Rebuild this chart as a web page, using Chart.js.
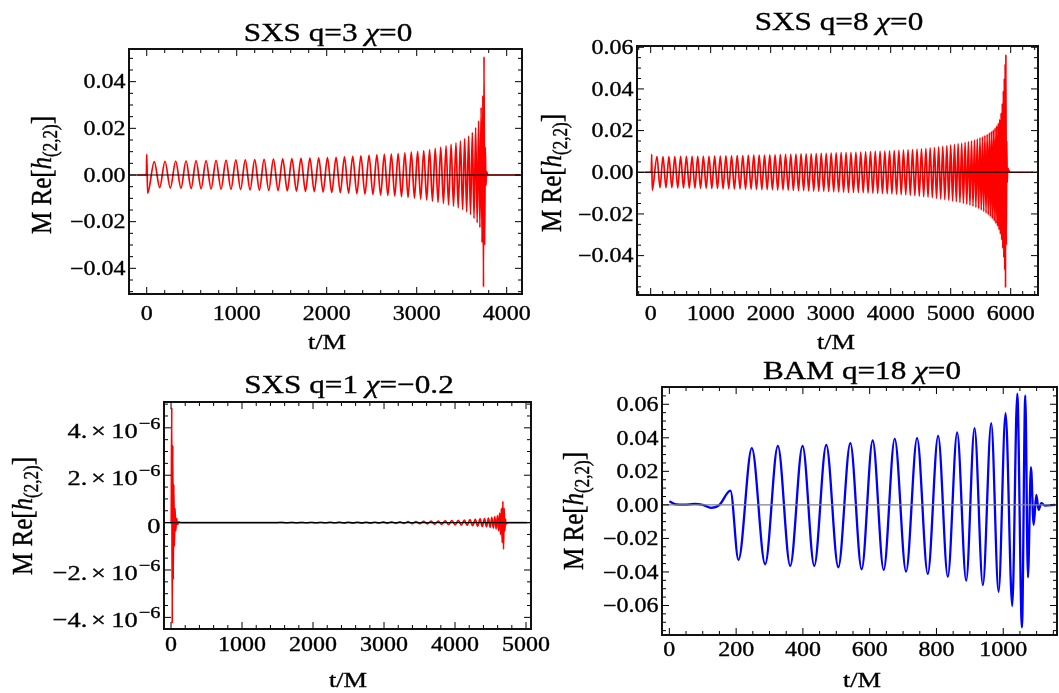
<!DOCTYPE html>
<html>
<head>
<meta charset="utf-8">
<script src="https://cdn.jsdelivr.net/npm/chart.js@4.4.1/dist/chart.umd.min.js"></script>
<style>
  body { margin: 0; background: #fff; }
  #wrap { position: relative; width: 1059px; height: 693px; overflow: hidden; background: #fff; }
  #wrap canvas { position: absolute; left: 0; top: 0; }
</style>
</head>
<body>
<div id="wrap">
  <canvas id="q3" width="1059" height="693"></canvas>
  <canvas id="q8" width="1059" height="693"></canvas>
  <canvas id="q1" width="1059" height="693"></canvas>
  <canvas id="q18" width="1059" height="693"></canvas>
</div>
<script>
// turning points: time t/M and M Re[h22]

// SXS q=3 chi=0
const q3T = [-111, -4, 0, 10, 84, 144, 203, 262, 322, 380, 437, 493, 548, 604, 659, 715, 770, 826, 881, 936,
  990, 1043, 1095, 1148, 1200, 1252, 1304, 1356, 1408, 1460, 1511, 1562, 1613, 1664, 1714, 1764, 1813, 1862,
  1911, 1960, 2008, 2056, 2104, 2151, 2197, 2243, 2289, 2335, 2380, 2425, 2470, 2514, 2557, 2599, 2640, 2679,
  2718, 2756, 2794, 2831, 2868, 2904, 2940, 2975, 3010, 3044, 3078, 3111, 3143, 3175, 3206, 3237, 3267, 3297,
  3326, 3354, 3382, 3409, 3436, 3461, 3486, 3510, 3533, 3555, 3577, 3598, 3618, 3637, 3655, 3672, 3688, 3702,
  3716, 3726, 3735, 3742, 3748, 3755, 3762, 3769, 3776, 3790, 4150];
const q3H = [0, 0, 0.0089, -0.0078, 0.0057, -0.0054, 0.0059, -0.0056, 0.0060, -0.0057, 0.0061, -0.0058, 0.0062,
  -0.0059, 0.0062, -0.0060, 0.0063, -0.0061, 0.0064, -0.0062, 0.0065, -0.0063, 0.0065, -0.0064, 0.0066, -0.0065,
  0.0067, -0.0066, 0.0068, -0.0067, 0.0069, -0.0068, 0.0070, -0.0069, 0.0071, -0.0070, 0.0072, -0.0071, 0.0073,
  -0.0073, 0.0075, -0.0075, 0.0076, -0.0076, 0.0078, -0.0078, 0.0080, -0.0080, 0.0082, -0.0082, 0.0084, -0.0084,
  0.0086, -0.0086, 0.0088, -0.0088, 0.0090, -0.0090, 0.0092, -0.0093, 0.0095, -0.0096, 0.0098, -0.0099, 0.0101,
  -0.0103, 0.0105, -0.0107, 0.0109, -0.0112, 0.0114, -0.0117, 0.0120, -0.0122, 0.0125, -0.0128, 0.0131, -0.0134,
  0.0138, -0.0141, 0.0146, -0.0149, 0.0156, -0.0158, 0.0167, -0.0170, 0.0182, -0.0186, 0.0203, -0.0205, 0.0232,
  -0.0225, 0.0290, -0.0290, 0.0340, -0.0480, 0.0507, -0.0300, 0.0120, -0.0045, 0.0015, 0, 0];
const q3XTicks = [0, 1000, 2000, 3000, 4000];
const q3YTicks = [-0.04, -0.02, 0, 0.02, 0.04];

// SXS q=8 chi=0
const q8T = [-100, 10, 17, 26, 105, 155, 205, 255, 304, 353, 402, 451, 499, 547, 595, 643, 690, 737, 784, 831,
  878, 925, 972, 1019, 1066, 1113, 1160, 1207, 1254, 1301, 1348, 1395, 1442, 1489, 1535, 1581, 1627, 1673, 1718,
  1763, 1808, 1853, 1897, 1941, 1985, 2029, 2073, 2117, 2161, 2205, 2248, 2292, 2335, 2378, 2421, 2464, 2506,
  2549, 2591, 2633, 2675, 2717, 2759, 2801, 2842, 2884, 2925, 2967, 3008, 3050, 3091, 3133, 3174, 3215, 3256,
  3297, 3338, 3379, 3420, 3461, 3501, 3542, 3582, 3623, 3663, 3703, 3743, 3783, 3823, 3863, 3902, 3942, 3981,
  4020, 4059, 4098, 4136, 4175, 4213, 4251, 4289, 4327, 4364, 4402, 4439, 4476, 4513, 4550, 4586, 4622, 4658,
  4694, 4729, 4764, 4799, 4834, 4868, 4902, 4935, 4968, 5000, 5032, 5063, 5094, 5124, 5154, 5183, 5212, 5240,
  5268, 5295, 5321, 5347, 5372, 5396, 5420, 5443, 5466, 5488, 5509, 5530, 5550, 5570, 5589, 5608, 5626, 5644,
  5661, 5678, 5694, 5710, 5725, 5740, 5754, 5768, 5781, 5794, 5806, 5818, 5829, 5840, 5850, 5860, 5869, 5878,
  5886, 5894, 5901, 5908, 5914, 5920, 5927, 5934, 5942, 5950, 5985, 6370];
const q8H = [0, 0, 0.0086, -0.0086, 0.0075, -0.0074, 0.0075, -0.0074, 0.0075, -0.0074, 0.0075, -0.0075, 0.0076,
  -0.0075, 0.0076, -0.0076, 0.0076, -0.0076, 0.0077, -0.0077, 0.0077, -0.0077, 0.0077, -0.0078, 0.0078, -0.0078,
  0.0078, -0.0079, 0.0079, -0.0079, 0.0079, -0.0080, 0.0080, -0.0080, 0.0080, -0.0081, 0.0081, -0.0081, 0.0082,
  -0.0082, 0.0082, -0.0083, 0.0083, -0.0083, 0.0084, -0.0084, 0.0084, -0.0085, 0.0085, -0.0085, 0.0086, -0.0086,
  0.0086, -0.0087, 0.0087, -0.0088, 0.0088, -0.0088, 0.0089, -0.0089, 0.0089, -0.0090, 0.0090, -0.0091, 0.0091,
  -0.0091, 0.0091, -0.0092, 0.0092, -0.0093, 0.0093, -0.0094, 0.0094, -0.0095, 0.0095, -0.0096, 0.0095, -0.0097,
  0.0096, -0.0097, 0.0097, -0.0098, 0.0098, -0.0099, 0.0099, -0.0100, 0.0100, -0.0101, 0.0101, -0.0102, 0.0102,
  -0.0103, 0.0103, -0.0104, 0.0104, -0.0105, 0.0105, -0.0107, 0.0106, -0.0108, 0.0108, -0.0110, 0.0109, -0.0112,
  0.0111, -0.0114, 0.0113, -0.0117, 0.0115, -0.0119, 0.0117, -0.0122, 0.0119, -0.0125, 0.0122, -0.0128, 0.0125,
  -0.0131, 0.0128, -0.0134, 0.0131, -0.0138, 0.0134, -0.0141, 0.0137, -0.0145, 0.0140, -0.0149, 0.0143, -0.0153,
  0.0147, -0.0158, 0.0151, -0.0163, 0.0155, -0.0168, 0.0160, -0.0174, 0.0165, -0.0181, 0.0170, -0.0188, 0.0176,
  -0.0196, 0.0182, -0.0204, 0.0189, -0.0213, 0.0196, -0.0223, 0.0204, -0.0234, 0.0213, -0.0246, 0.0223, -0.0260,
  0.0236, -0.0277, 0.0255, -0.0298, 0.0285, -0.0325, 0.0330, -0.0365, 0.0390, -0.0410, 0.0450, -0.0470, 0.0520,
  -0.0555, 0.0565, -0.0350, 0.0150, -0.0050, 0.0020, 0, 0];
const q8XTicks = [0, 1000, 2000, 3000, 4000, 5000, 6000];
const q8YTicks = [-0.04, -0.02, 0, 0.02, 0.04, 0.06];

// SXS q=1 chi=-0.2, values in units of 1e-6
const q1Unit = 1e-6;
const q1T = [-14, 3, 10, 17, 24, 31, 39, 47, 56, 66, 78, 92, 110, 140, 1500, 1560, 1630, 1700, 1769, 1838, 1906,
  1974, 2041, 2108, 2174, 2240, 2305, 2370, 2434, 2498, 2561, 2624, 2686, 2748, 2809, 2870, 2930, 2990, 3049,
  3108, 3166, 3224, 3281, 3338, 3394, 3449, 3503, 3557, 3610, 3662, 3713, 3764, 3813, 3862, 3909, 3956, 4001,
  4046, 4089, 4131, 4171, 4211, 4248, 4285, 4319, 4353, 4384, 4415, 4443, 4470, 4494, 4518, 4539, 4560, 4579,
  4597, 4613, 4628, 4641, 4653, 4664, 4674, 4683, 4692, 4701, 4710, 4719, 4740, 5010];
const q1H = [0, 0, 4.85, -4.25, 3.25, -2.4, 1.6, -1.0, 0.6, -0.35, 0.18, -0.08, 0.03, 0, 0, 0.012, -0.012, 0.013,
  -0.013, 0.014, -0.014, 0.015, -0.015, 0.016, -0.016, 0.017, -0.017, 0.018, -0.019, 0.020, -0.021, 0.022, -0.023,
  0.024, -0.025, 0.026, -0.027, 0.029, -0.030, 0.032, -0.033, 0.035, -0.037, 0.039, -0.041, 0.043, -0.045, 0.048,
  -0.050, 0.060, -0.064, 0.068, -0.072, 0.077, -0.082, 0.088, -0.093, 0.099, -0.105, 0.111, -0.117, 0.124, -0.131,
  0.138, -0.146, 0.154, -0.163, 0.172, -0.182, 0.193, -0.205, 0.218, -0.233, 0.25, -0.27, 0.30, -0.34, 0.40, -0.50,
  0.60, -0.85, 0.90, -1.12, 0.60, -0.35, 0.15, -0.06, 0, 0];
const q1XTicks = [0, 1000, 2000, 3000, 4000, 5000];
const q1YTicks = [-4e-6, -2e-6, 0, 2e-6, 4e-6];

// BAM q=18 chi=0
const q18T = [0, 20, 45, 75, 100, 125, 150, 183, 207, 247, 287, 325, 362, 399, 434, 470, 506, 542, 576, 609, 642,
  675, 709, 742, 774, 805, 834, 862, 889, 914, 939, 964, 986, 1007, 1027, 1042, 1056, 1066, 1074, 1083, 1091,
  1099, 1106, 1114, 1125, 1155];
const q18H = [0.0022, 0.0003, 0.0001, 0.0006, 0, -0.0018, 0, 0.0085, -0.0328, 0.0338, -0.0354, 0.0352, -0.0364,
  0.0352, -0.0364, 0.0358, -0.0372, 0.0368, -0.0384, 0.0384, -0.0388, 0.0394, -0.0398, 0.0398, -0.0412, 0.0412,
  -0.0428, 0.0432, -0.0452, 0.0458, -0.0478, 0.0488, -0.0518, 0.0547, -0.0603, 0.0663, -0.0730, 0.0653, -0.0432,
  0.0225, -0.0119, 0.0060, -0.0030, 0.0010, -0.0004, 0];
const q18XTicks = [0, 200, 400, 600, 800, 1000];
const q18YTicks = [-0.06, -0.04, -0.02, 0, 0.02, 0.04, 0.06];

const W = 1059, H = 693;
const SX = 1.2; // the figure text is stretched sideways
const SERIF = '"Liberation Serif", "Times New Roman", serif';

function fnt(r) {
  return (r[2] ? 'italic ' : '') + r[1] + 'px ' + SERIF;
}

// runs: [text, size, italic, raise, padAfter]
function drawRuns(ctx, runs, x, y, align, rotated) {
  ctx.save();
  ctx.translate(x, y);
  if (rotated) {
    ctx.rotate(-Math.PI / 2);
    ctx.scale(1, SX);
  } else {
    ctx.scale(SX, 1);
  }
  ctx.textAlign = 'left';
  ctx.textBaseline = 'alphabetic';
  ctx.fillStyle = '#000';
  ctx.strokeStyle = '#000';
  ctx.lineWidth = 0.35;
  let w = 0;
  runs.forEach(r => { ctx.font = fnt(r); w += ctx.measureText(r[0]).width + (r[4] || 0); });
  let cx = align === 'center' ? -w / 2 : align === 'right' ? -w : 0;
  runs.forEach(r => {
    ctx.font = fnt(r);
    ctx.fillText(r[0], cx, -(r[3] || 0));
    ctx.strokeText(r[0], cx, -(r[3] || 0));
    cx += ctx.measureText(r[0]).width + (r[4] || 0);
  });
  ctx.restore();
}

const minus = s => s.replace('-', '\u2212');
const fixed2 = v => [[Math.abs(v) < 1e-9 ? '0.00' : minus(v.toFixed(2)), 20]];
const sci6 = v => {
  if (Math.abs(v) < 1e-12) return [['0', 22]];
  const m = Math.round(v / 1e-6);
  return [[minus(m + '.'), 22, false, 0, 3], ['\u00d7', 22, false, 0, 4.5], ['10', 22, false, 0, 1],
    ['\u22126', 17, false, 9]];
};
const plainX = v => [[String(Math.round(v)), 20]];

const yTitleRuns = [['M Re[', 25], ['h', 25, true], ['(2,2)', 17, false, -5], [']', 25]];
const chi = (head, tail) => [[head, 26], ['\u03c7', 26, true], [tail, 26]];

// frame, inward ticks, zero axis and all text
function frameFor(cfg) {
  return {
    id: 'frame_' + cfg.id,
    afterDraw(chart) {
      const ctx = chart.ctx;
      const a = chart.chartArea;
      const xs = chart.scales.x, ys = chart.scales.y;
      ctx.save();
      // zero axis
      const y0 = ys.getPixelForValue(0);
      ctx.strokeStyle = cfg.axis;
      ctx.lineWidth = cfg.axisW;
      ctx.beginPath();
      ctx.moveTo(a.left, y0);
      ctx.lineTo(a.right, y0);
      ctx.stroke();
      // ticks
      ctx.strokeStyle = '#000';
      ctx.lineWidth = 1;
      const tickSet = (scale, major, minor) => {
        const out = [];
        const k0 = Math.ceil(scale.min / minor), k1 = Math.floor(scale.max / minor);
        for (let k = k0; k <= k1; k++) {
          const v = k * minor;
          const isMajor = Math.abs(v / major - Math.round(v / major)) < 1e-6;
          out.push([scale.getPixelForValue(v), isMajor ? 7 : 4]);
        }
        return out;
      };
      ctx.beginPath();
      tickSet(xs, cfg.xs[0], cfg.xs[1]).forEach(([p, len]) => {
        ctx.moveTo(p, a.bottom); ctx.lineTo(p, a.bottom - len);
        ctx.moveTo(p, a.top); ctx.lineTo(p, a.top + len);
      });
      tickSet(ys, cfg.ys[0], cfg.ys[1]).forEach(([p, len]) => {
        ctx.moveTo(a.left, p); ctx.lineTo(a.left + len, p);
        ctx.moveTo(a.right, p); ctx.lineTo(a.right - len, p);
      });
      ctx.stroke();
      // frame
      ctx.lineWidth = 2;
      ctx.strokeStyle = '#111';
      ctx.strokeRect(a.left, a.top, a.right - a.left, a.bottom - a.top);
      ctx.restore();

      // tick labels at the scale's own ticks
      xs.ticks.forEach(t => {
        drawRuns(ctx, cfg.xfmt(t.value), xs.getPixelForValue(t.value), cfg.xLabelY, 'center');
      });
      ys.ticks.forEach(t => {
        drawRuns(ctx, cfg.yfmt(t.value), a.left - 3.5, ys.getPixelForValue(t.value) + cfg.yLabelDy, 'right');
      });
      // titles
      drawRuns(ctx, cfg.title, cfg.titleAt[0], cfg.titleAt[1], 'center');
      drawRuns(ctx, [['t/M', 22]], cfg.xTitleAt[0], cfg.xTitleAt[1], 'center');
      drawRuns(ctx, yTitleRuns, cfg.yTitleAt[0], cfg.yTitleAt[1], 'center', true);
    }
  };
}

function makePanel(cfg) {
  const unit = cfg.unit || 1;
  const pts = cfg.t.map((t, i) => ({ x: t, y: cfg.h[i] * unit }));
  return new Chart(document.getElementById(cfg.id), {
    type: 'line',
    data: {
      datasets: [{
        data: pts,
        borderColor: cfg.color,
        borderWidth: cfg.lw,
        pointRadius: 0,
        cubicInterpolationMode: 'monotone',
        fill: false
      }]
    },
    options: {
      responsive: false,
      animation: false,
      events: [],
      parsing: false,
      layout: {
        padding: { left: cfg.box[0], top: cfg.box[1], right: W - cfg.box[2], bottom: H - cfg.box[3] }
      },
      plugins: { legend: { display: false }, tooltip: { enabled: false } },
      scales: {
        x: {
          type: 'linear', min: cfg.xr[0], max: cfg.xr[1],
          ticks: { display: false },
          grid: { display: false }, border: { display: false },
          afterBuildTicks: s => { s.ticks = cfg.xTicks.map(v => ({ value: v })); },
          afterFit: s => { s.height = 0; }
        },
        y: {
          type: 'linear', min: cfg.yr[0], max: cfg.yr[1],
          ticks: { display: false },
          grid: { display: false }, border: { display: false },
          afterBuildTicks: s => { s.ticks = cfg.yTicks.map(v => ({ value: v })); },
          afterFit: s => { s.width = 0; }
        }
      }
    },
    plugins: [frameFor(cfg)]
  });
}

makePanel({
  id: 'q3', t: q3T, h: q3H, color: '#ff0000', lw: 1.7, axis: '#000', axisW: 1.2,
  box: [129, 49, 522, 294], xr: [-197, 4170], yr: [-0.051, 0.054], xs: [1000, 200], ys: [0.02, 0.005],
  xTicks: q3XTicks, yTicks: q3YTicks,
  xfmt: plainX, yfmt: fixed2, xLabelY: 320, yLabelDy: 6.8,
  title: chi('SXS q=3 ', '=0'), titleAt: [328, 41], xTitleAt: [327, 349], yTitleAt: [51, 175]
});

makePanel({
  id: 'q8', t: q8T, h: q8H, color: '#ff0000', lw: 1.7, axis: '#000', axisW: 1.2,
  box: [637, 46, 1038, 295], xr: [-228, 6455], yr: [-0.0589, 0.0606], xs: [1000, 200], ys: [0.02, 0.005],
  xTicks: q8XTicks, yTicks: q8YTicks,
  xfmt: plainX, yfmt: fixed2, xLabelY: 319.5, yLabelDy: 6.8,
  title: chi('SXS q=8 ', '=0'), titleAt: [839, 30], xTitleAt: [836, 349], yTitleAt: [561, 173]
});

makePanel({
  id: 'q1', t: q1T, h: q1H, unit: q1Unit, color: '#ff0000', lw: 1.7, axis: '#000', axisW: 1.2,
  box: [164, 402, 531, 629], xr: [-99, 5070], yr: [-4.49e-6, 5.09e-6], xs: [1000, 200], ys: [2e-6, 5e-7],
  xTicks: q1XTicks, yTicks: q1YTicks,
  xfmt: plainX, yfmt: sci6, xLabelY: 651, yLabelDy: 10,
  title: chi('SXS q=1 ', '=\u22120.2'), titleAt: [349, 393], xTitleAt: [348, 687], yTitleAt: [32, 516]
});

makePanel({
  id: 'q18', t: q18T, h: q18H, color: '#0000ff', lw: 2.3, axis: '#808080', axisW: 1.3,
  box: [662, 387, 1057, 635], xr: [-22, 1161], yr: [-0.0776, 0.0703], xs: [200, 50], ys: [0.02, 0.005],
  xTicks: q18XTicks, yTicks: q18YTicks,
  xfmt: plainX, yfmt: fixed2, xLabelY: 656, yLabelDy: 6.8,
  title: chi('BAM q=18 ', '=0'), titleAt: [862, 379], xTitleAt: [862, 687], yTitleAt: [583, 511]
});
</script>
</body>
</html>
